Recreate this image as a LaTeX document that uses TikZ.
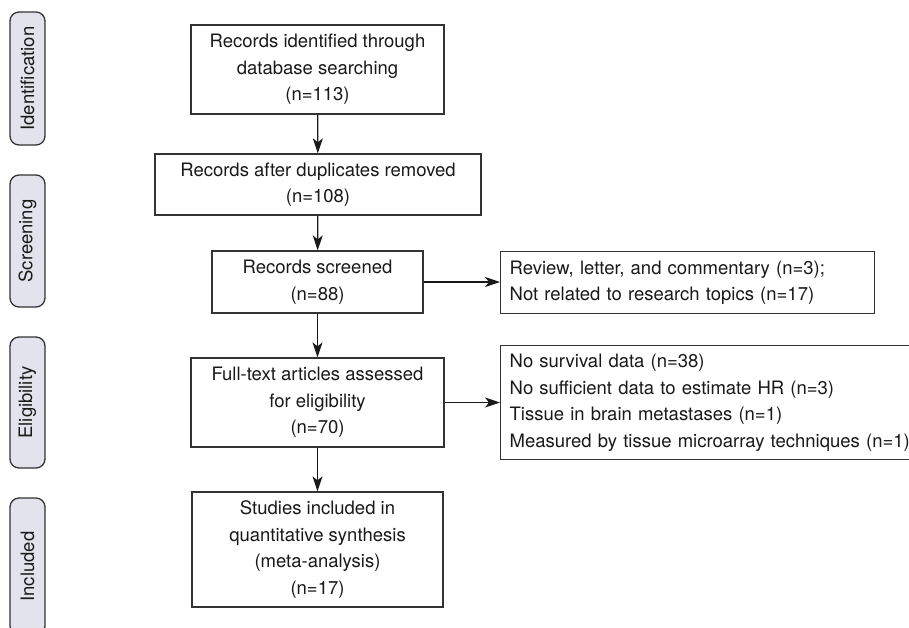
\documentclass[tikz,border=0pt]{standalone}
\usepackage{fontspec}
\setmainfont{TeX Gyre Heros}
\usetikzlibrary{arrows.meta}
\definecolor{edge}{HTML}{333333}
\definecolor{phase}{HTML}{E3E3EE}
\begin{document}
\begin{tikzpicture}[x=1pt,y=-1pt,
  every node/.style={font=\fontsize{18.5}{26.5}\selectfont, text=black!90},
  flowbox/.style={draw=edge, line width=1.3pt, align=center, inner sep=0pt},
  sidebox/.style={draw=edge, line width=1.3pt, inner sep=0pt, align=left, anchor=north west},
  phasebox/.style={draw=edge, line width=1.3pt, fill=phase, rounded corners=9pt, rotate=90, inner sep=0pt, minimum height=35pt},
  arr/.style={draw=black!90, line width=1.3pt, -{Stealth[length=15pt,width=10pt,inset=4pt]}}]
\useasboundingbox (0,0) rectangle (909,627);
% phase labels
\node[phasebox, minimum width=133pt] (pI) at (27.5,78.5) {Identification};
\node[phasebox, minimum width=132pt] (pS) at (27.5,241) {Screening};
\node[phasebox, minimum width=131pt] (pE) at (27.5,402.5) {Eligibility};
\node[phasebox, minimum width=137pt] (pN) at (27.5,566.5) {Included};
% main boxes
\node[flowbox, minimum width=253pt, minimum height=89pt] (b1) at (317.5,69.5)
  {Records identified through\\database searching\\(n=113)};
\node[flowbox, minimum width=326pt, minimum height=61pt] (b2) at (318,184.5)
  {Records after duplicates removed\\(n=108)};
\node[flowbox, minimum width=211pt, minimum height=62pt] (b3) at (317.5,282)
  {Records screened\\(n=88)};
\node[flowbox, minimum width=253pt, minimum height=89pt] (b4) at (317.5,402.5)
  {Full-text articles assessed\\for eligibility\\(n=70)};
\node[flowbox, minimum width=251pt, minimum height=115pt] (b5) at (317.5,549.5)
  {Studies included in\\quantitative synthesis\\(meta-analysis)\\(n=17)};
% side boxes
\node[sidebox, text width=356pt, minimum height=62pt, inner xsep=9pt] (rA) at (500,251)
  {Review, letter, and commentary (n=3);\\Not related to research topics (n=17)};
\node[sidebox, text width=410pt, minimum height=114pt, inner xsep=9pt] (rB) at (500,345)
  {No survival data (n=38)\\No sufficient data to estimate HR (n=3)\\Tissue in brain metastases (n=1)\\Measured by tissue microarray techniques (n=1)};
% connectors
\draw[arr] (b1) -- (b2);
\draw[arr] (b2) -- (b3);
\draw[arr] (b3) -- (b4);
\draw[arr] (b4) -- (b5);
\draw[arr] (b3.east) -- (b3.east -| rA.west);
\draw[arr] (b4.east) -- (b4.east -| rB.west);
\end{tikzpicture}
\end{document}
